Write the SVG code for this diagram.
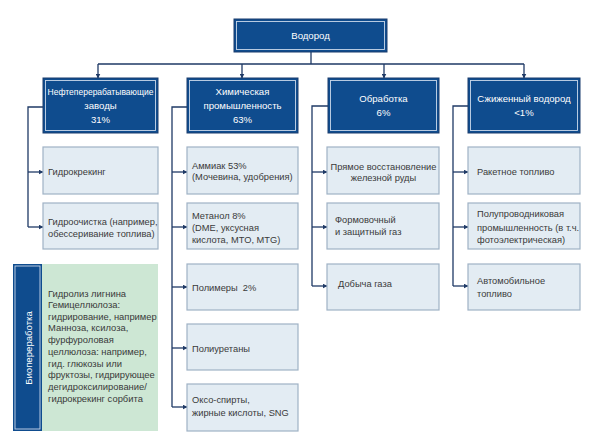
<svg xmlns="http://www.w3.org/2000/svg" width="597" height="441" viewBox="0 0 597 441">
<style>
.hdr{fill:#0f4c8e;stroke:#1b3d6e;stroke-width:1}
.hin{fill:none;stroke:#c9d8ea;stroke-width:0.9}
.box{fill:#e3ecf3;stroke:#9fb2c5;stroke-width:1.2}
.ht{font-family:"Liberation Sans",Arial,sans-serif;font-size:9.6px;fill:#ffffff;text-anchor:middle}
.t{font-family:"Liberation Sans",Arial,sans-serif;font-size:9.3px;fill:#3a3a3a;white-space:pre}
.tc{text-anchor:middle}
.bt{font-family:"Liberation Sans",Arial,sans-serif;font-size:9.4px;fill:#3a3a3a}
.ln{fill:none;stroke:#1f3a66;stroke-width:1.3}
</style>
<defs>
<marker id="ah" viewBox="0 0 10 10" refX="9" refY="5" markerWidth="5" markerHeight="5" orient="auto" markerUnits="userSpaceOnUse">
<path d="M0,0 L10,5 L0,10 z" fill="#1f3a66"/>
</marker>
</defs>
<rect width="597" height="441" fill="#ffffff"/>

<g id="connectors">
<path class="ln" d="M311,52 V64 M98,64 H524"/>
<path class="ln" d="M98,64 V78" marker-end="url(#ah)"/>
<path class="ln" d="M242,64 V78" marker-end="url(#ah)"/>
<path class="ln" d="M384,64 V78" marker-end="url(#ah)"/>
<path class="ln" d="M524,64 V78" marker-end="url(#ah)"/>
<path class="ln" d="M43,107 H28 V227"/>
<path class="ln" d="M28,172 H43" marker-end="url(#ah)"/>
<path class="ln" d="M28,227 H43" marker-end="url(#ah)"/>
<path class="ln" d="M187,107 H172 V407"/>
<path class="ln" d="M172,172 H187" marker-end="url(#ah)"/>
<path class="ln" d="M172,227 H187" marker-end="url(#ah)"/>
<path class="ln" d="M172,287 H187" marker-end="url(#ah)"/>
<path class="ln" d="M172,348 H187" marker-end="url(#ah)"/>
<path class="ln" d="M172,407 H187" marker-end="url(#ah)"/>
<path class="ln" d="M328,106 H312 V286"/>
<path class="ln" d="M312,172 H327" marker-end="url(#ah)"/>
<path class="ln" d="M312,227 H327" marker-end="url(#ah)"/>
<path class="ln" d="M312,286 H327" marker-end="url(#ah)"/>
<path class="ln" d="M468,106 H453 V286"/>
<path class="ln" d="M453,172 H468" marker-end="url(#ah)"/>
<path class="ln" d="M453,227 H468" marker-end="url(#ah)"/>
<path class="ln" d="M453,286 H468" marker-end="url(#ah)"/>
</g>

<g id="root">
<rect class="hdr" x="234" y="19" width="153" height="33"/>
<rect class="hin" x="236.5" y="21.5" width="148" height="28"/>
<text class="ht" x="310.5" y="39">Водород</text>
</g>

<g id="h1">
<rect class="hdr" x="43" y="78" width="115" height="55"/>
<rect class="hin" x="45.5" y="80.5" width="110" height="50"/>
<text class="ht" x="100.5" y="95" textLength="106" lengthAdjust="spacingAndGlyphs">Нефтеперерабатывающие</text>
<text class="ht" x="100.5" y="109">заводы</text>
<text class="ht" x="100.5" y="123">31%</text>
</g>
<g id="h2">
<rect class="hdr" x="187" y="78" width="111" height="55"/>
<rect class="hin" x="189.5" y="80.5" width="106" height="50"/>
<text class="ht" x="242.5" y="95">Химическая</text>
<text class="ht" x="242.5" y="109">промышленность</text>
<text class="ht" x="242.5" y="123">63%</text>
</g>
<g id="h3">
<rect class="hdr" x="328" y="78" width="111" height="55"/>
<rect class="hin" x="330.5" y="80.5" width="106" height="50"/>
<text class="ht" x="383.5" y="102">Обработка</text>
<text class="ht" x="383.5" y="116">6%</text>
</g>
<g id="h4">
<rect class="hdr" x="468" y="78" width="112" height="55"/>
<rect class="hin" x="470.5" y="80.5" width="107" height="50"/>
<text class="ht" x="524" y="102">Сжиженный водород</text>
<text class="ht" x="524" y="116">&lt;1%</text>
</g>

<g id="c1r1"><rect class="box" x="43" y="147" width="115" height="47"/><text class="t" x="48" y="175">Гидрокрекинг</text></g>
<g id="c1r2"><rect class="box" x="43" y="203" width="115" height="46"/><text class="t" x="48" y="225">Гидроочистка (например,</text><text class="t" x="48" y="236.5">обессеривание топлива)</text></g>

<g id="c2r1"><rect class="box" x="187" y="147" width="111" height="47"/><text class="t" x="192" y="168.5">Аммиак 53%</text><text class="t" x="192" y="180">(Мочевина, удобрения)</text></g>
<g id="c2r2"><rect class="box" x="187" y="203" width="111" height="46"/><text class="t" x="192" y="218.5">Метанол 8%</text><text class="t" x="192" y="230.5">(DME, уксусная</text><text class="t" x="192" y="242.5">кислота, MTO, MTG)</text></g>
<g id="c2r3"><rect class="box" x="187" y="264" width="111" height="46"/><text class="t" x="192" y="290.5" xml:space="preserve">Полимеры  2%</text></g>
<g id="c2r4"><rect class="box" x="187" y="324" width="111" height="46"/><text class="t" x="192" y="351.5">Полиуретаны</text></g>
<g id="c2r5"><rect class="box" x="187" y="384" width="111" height="47"/><text class="t" x="192" y="403">Оксо-спирты,</text><text class="t" x="192" y="416">жирные кислоты, SNG</text></g>

<g id="c3r1"><rect class="box" x="327" y="147" width="112" height="47"/><text class="t tc" x="383.5" y="169.5">Прямое восстановление</text><text class="t tc" x="383.5" y="180.5">железной руды</text></g>
<g id="c3r2"><rect class="box" x="327" y="203" width="112" height="46"/><text class="t" x="335" y="223">Формовочный</text><text class="t" x="335" y="235">и защитный газ</text></g>
<g id="c3r3"><rect class="box" x="327" y="264" width="112" height="46"/><text class="t" x="338" y="287">Добыча газа</text></g>

<g id="c4r1"><rect class="box" x="468" y="147" width="112" height="47"/><text class="t" x="477" y="174.5">Ракетное топливо</text></g>
<g id="c4r2"><rect class="box" x="468" y="203" width="112" height="46"/><text class="t" x="477" y="217">Полупроводниковая</text><text class="t" x="477" y="231">промышленность (в т.ч.</text><text class="t" x="477" y="243">фотоэлектрическая)</text></g>
<g id="c4r3"><rect class="box" x="468" y="264" width="112" height="46"/><text class="t" x="477" y="283.5">Автомобильное</text><text class="t" x="477" y="297">топливо</text></g>

<g id="bio">
<rect x="42" y="264" width="116" height="167" fill="#cde7d4"/>
<rect x="13" y="264" width="29" height="167" fill="#0f4c8e"/>
<rect x="15" y="266" width="25" height="163" fill="none" stroke="#c9d8ea" stroke-width="0.9"/>
<text class="ht" transform="translate(31.5,348) rotate(-90)" x="0" y="0">Биопереработка</text>
<text class="bt" x="48" y="296.5">Гидролиз лигнина</text>
<text class="bt" x="48" y="308">Гемицеллюлоза:</text>
<text class="bt" x="48" y="319.7">гидрирование, например</text>
<text class="bt" x="48" y="331.4">Манноза, ксилоза,</text>
<text class="bt" x="48" y="343.1">фурфуроловая</text>
<text class="bt" x="48" y="354.8">целлюлоза: например,</text>
<text class="bt" x="48" y="366.5">гид. глюкозы или</text>
<text class="bt" x="48" y="378.2">фруктозы, гидрирующее</text>
<text class="bt" x="48" y="389.9">дегидроксилирование/</text>
<text class="bt" x="48" y="401.6">гидрокрекинг сорбита</text>
</g>
</svg>
